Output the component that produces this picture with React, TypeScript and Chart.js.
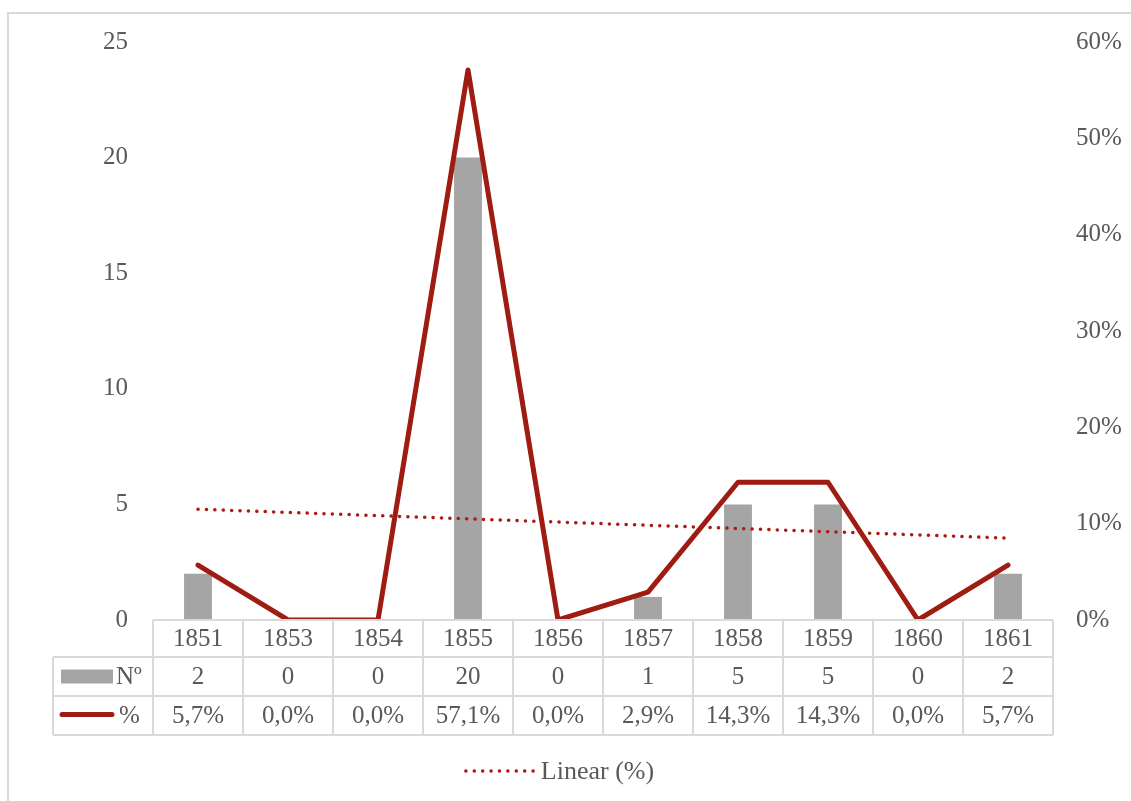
import { useEffect, useRef } from 'react';
import { Chart, registerables } from 'chart.js';

Chart.register(...registerables);

const years = ['1851', '1853', '1854', '1855', '1856', '1857', '1858', '1859', '1860', '1861'];
const counts = [2, 0, 0, 20, 0, 1, 5, 5, 0, 2];
const percents = [5.7, 0, 0, 57.1, 0, 2.9, 14.3, 14.3, 0, 5.7];
const trendStart = 11.5;
const trendEnd = 8.5;
const countLabel = 'Nº';
const percentLabel = '%';
const trendLabel = 'Linear (%)';

const FONT = "'Liberation Serif', 'Times New Roman', serif";
const TEXT = '#595959';
const GRID = '#d9d9d9';
const BAR = '#a5a5a5';
const LINE = '#9f1c12';
const TREND = '#ad1a10';

const fmtPct = (v: number) => v.toFixed(1).replace('.', ',') + '%';

const trendData = years.map((_, i) => (i === 0 ? trendStart : i === years.length - 1 ? trendEnd : null));

const tablePlugin = {
  id: 'dataTable',
  beforeDraw(chart: any) {
    const ctx = chart.ctx;
    ctx.save();
    ctx.fillStyle = '#ffffff';
    ctx.fillRect(0, 0, chart.width, chart.height);
    ctx.strokeStyle = GRID;
    ctx.lineWidth = 2;
    ctx.beginPath();
    ctx.moveTo(8, chart.height);
    ctx.lineTo(8, 13);
    ctx.lineTo(chart.width, 13);
    ctx.stroke();
    ctx.restore();
  },
  afterDraw(chart: any) {
    const ctx = chart.ctx;
    const xs = chart.scales.x;
    const area = chart.chartArea;
    const n = years.length;
    const r0 = area.bottom;
    const r1 = r0 + 37;
    const r2 = r1 + 39;
    const r3 = r2 + 39;
    const tableLeft = 53;
    const bounds: number[] = [];
    for (let i = 0; i <= n; i++) {
      if (i === 0) bounds.push(area.left);
      else if (i === n) bounds.push(area.right);
      else bounds.push((xs.getPixelForValue(i - 1) + xs.getPixelForValue(i)) / 2);
    }
    ctx.save();
    ctx.strokeStyle = GRID;
    ctx.lineWidth = 2;
    ctx.beginPath();
    ctx.moveTo(area.left, r0);
    ctx.lineTo(area.right, r0);
    [r1, r2, r3].forEach((y) => {
      ctx.moveTo(tableLeft, y);
      ctx.lineTo(area.right, y);
    });
    bounds.forEach((bx) => {
      ctx.moveTo(bx, r0);
      ctx.lineTo(bx, r3);
    });
    ctx.moveTo(tableLeft, r1);
    ctx.lineTo(tableLeft, r3);
    ctx.stroke();

    ctx.fillStyle = TEXT;
    ctx.font = `25px ${FONT}`;
    ctx.textAlign = 'center';
    ctx.textBaseline = 'middle';
    for (let i = 0; i < n; i++) {
      const cx = xs.getPixelForValue(i);
      ctx.fillText(years[i], cx, (r0 + r1) / 2 + 1);
      ctx.fillText(String(counts[i]), cx, (r1 + r2) / 2 + 1);
      ctx.fillText(fmtPct(percents[i]), cx, (r2 + r3) / 2 + 1);
    }

    ctx.fillStyle = BAR;
    ctx.fillRect(61, (r1 + r2) / 2 - 7, 52, 14);
    ctx.strokeStyle = LINE;
    ctx.lineWidth = 5;
    ctx.lineCap = 'round';
    ctx.beginPath();
    ctx.moveTo(62, (r2 + r3) / 2 - 1);
    ctx.lineTo(112, (r2 + r3) / 2 - 1);
    ctx.stroke();
    ctx.fillStyle = TEXT;
    ctx.textAlign = 'left';
    ctx.fillText(countLabel, 116, (r1 + r2) / 2 + 1);
    ctx.fillText(percentLabel, 119, (r2 + r3) / 2 + 1);

    const ly = 771;
    ctx.font = `26px ${FONT}`;
    const tw = ctx.measureText(trendLabel).width;
    const total = 71 + 6 + tw;
    const lx = 559 - total / 2;
    ctx.strokeStyle = TREND;
    ctx.lineWidth = 3.5;
    ctx.lineCap = 'round';
    ctx.setLineDash([0.1, 8.3]);
    ctx.beginPath();
    ctx.moveTo(lx + 2, ly);
    ctx.lineTo(lx + 71, ly);
    ctx.stroke();
    ctx.setLineDash([]);
    ctx.fillText(trendLabel, lx + 77, ly + 1);
    ctx.restore();
  },
};

export default function App() {
  const ref = useRef<HTMLCanvasElement | null>(null);
  useEffect(() => {
    if (!ref.current) return;
    const chart = new Chart(ref.current, {
      type: 'bar',
      data: {
        labels: years,
        datasets: [
          {
            type: 'bar',
            label: countLabel,
            data: counts,
            backgroundColor: BAR,
            yAxisID: 'y',
            barPercentage: 0.31,
            categoryPercentage: 1,
            order: 3,
          },
          {
            type: 'line',
            label: percentLabel,
            data: percents,
            borderColor: LINE,
            backgroundColor: LINE,
            borderWidth: 5,
            pointRadius: 0,
            tension: 0,
            borderJoinStyle: 'round',
            borderCapStyle: 'round',
            yAxisID: 'y1',
            order: 2,
          },
          {
            type: 'line',
            label: trendLabel,
            data: trendData,
            borderColor: TREND,
            borderWidth: 3.5,
            borderDash: [0.1, 8.3],
            borderCapStyle: 'round',
            pointRadius: 0,
            spanGaps: true,
            yAxisID: 'y1',
            order: 1,
          },
        ],
      } as any,
      options: {
        responsive: false,
        animation: false,
        devicePixelRatio: 1,
        layout: { padding: { left: 0, right: 0, top: 42, bottom: 181 } },
        plugins: { legend: { display: false }, tooltip: { enabled: false } },
        scales: {
          x: { display: false, offset: true, grid: { display: false } },
          y: {
            position: 'left',
            min: 0,
            max: 25,
            ticks: { stepSize: 5, color: TEXT, font: { family: FONT, size: 25 }, padding: 25 },
            grid: { display: false, drawTicks: false },
            border: { display: false },
            afterFit: (s: any) => {
              s.width = 153;
            },
          },
          y1: {
            position: 'right',
            min: 0,
            max: 60,
            ticks: {
              stepSize: 10,
              color: TEXT,
              font: { family: FONT, size: 25 },
              padding: 23,
              callback: (v: any) => v + '%',
            },
            grid: { display: false, drawTicks: false },
            border: { display: false },
            afterFit: (s: any) => {
              s.width = 78;
            },
          },
        },
      } as any,
      plugins: [tablePlugin],
    });
    return () => chart.destroy();
  }, []);
  return (
    <div style={{ position: 'fixed', left: 0, top: 0, width: 1131, height: 801, background: '#fff' }}>
      <canvas ref={ref} width={1131} height={801} style={{ display: 'block' }} />
    </div>
  );
}
